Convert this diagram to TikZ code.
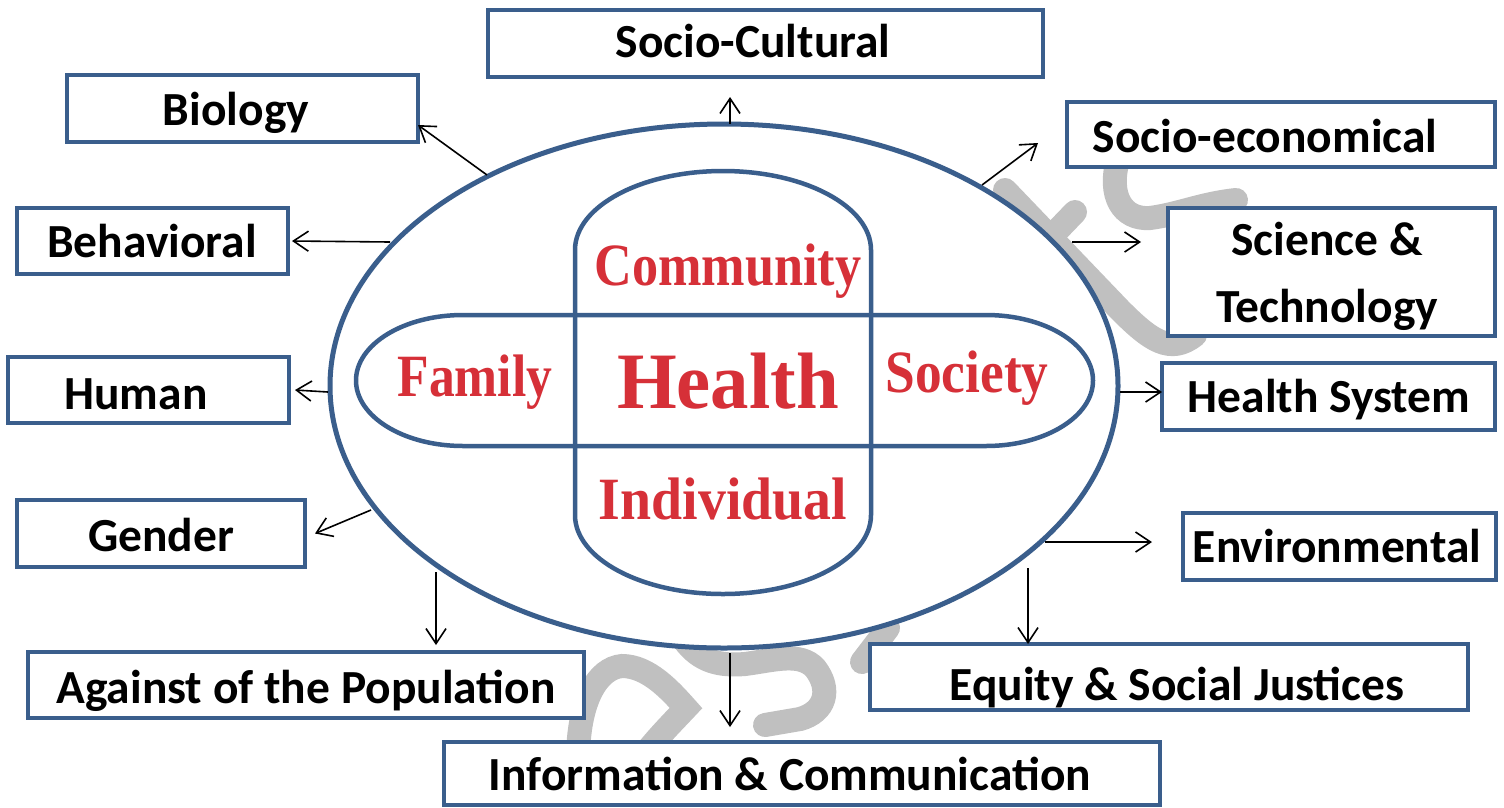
\documentclass[tikz,border=0pt]{standalone}
\usepackage{fontspec}
\usepackage{graphicx}
\usetikzlibrary{shapes.geometric,arrows.meta}
\newfontfamily\boxfont{Carlito}
\newfontfamily\redfont{Liberation Serif}
\definecolor{bblue}{RGB}{58,94,140}
\definecolor{hred}{RGB}{214,48,56}
\definecolor{wmgray}{RGB}{192,192,192}
\begin{document}
\begin{tikzpicture}[x=1pt,y=-1pt,
  box/.style={draw=bblue, line width=4.5pt, fill=white, rectangle, inner sep=0pt, outer sep=0pt},
  lbl/.style={font=\boxfont\bfseries\fontsize{47.5}{57}\selectfont, anchor=base, inner sep=0pt},
  arr/.style={-{Straight Barb[length=15pt,width=20pt]}, line width=1.6pt, black},
  wm/.style={wmgray, line width=24pt, line cap=round},
  pill/.style={draw=bblue, line width=4.5pt},
  redtxt/.style={font=\redfont\bfseries\fontsize{60}{66}\selectfont, text=hred, anchor=base, inner sep=0pt},
  redbig/.style={font=\redfont\bfseries\fontsize{80}{86}\selectfont, text=hred, anchor=base, inner sep=0pt}]
\fill[white] (0,0) rectangle (1504,807);
\useasboundingbox (0,0) rectangle (1504,807);

% watermark strokes
\draw[wm] (578,760) .. controls (578,700) and (598,668) .. (622,666) .. controls (648,666) and (670,690) .. (686,708) .. controls (670,725) and (655,740) .. (640,760);
\draw[wm] (684,640) .. controls (700,662) and (720,666) .. (745,664) .. controls (775,660) and (800,652) .. (815,668) .. controls (832,690) and (825,712) .. (800,719) -- (765,725);
\draw[wm] (862,662) -- (888,628);
\draw[wm] (1050,238) -- (1075,212);
\draw[wm] (1005,190) -- (1120,310) .. controls (1150,340) and (1170,355) .. (1195,335);
\draw[wm] (1118,160) .. controls (1108,195) and (1122,220) .. (1150,218) .. controls (1180,214) and (1200,204) .. (1236,200);

% main ellipse
\node[ellipse, draw=bblue, line width=5pt, fill=white, minimum width=788pt, minimum height=524pt, inner sep=0pt, outer sep=0pt] (ell) at (724,386) {};

% cross of pills
\draw[pill] (575,515) -- (575,250) arc[start angle=180, end angle=360, x radius=148, y radius=79] -- (871,515) arc[start angle=0, end angle=180, x radius=148, y radius=79] -- cycle;
\draw[pill] (463,315) -- (986,315) arc[start angle=-90, end angle=90, x radius=107, y radius=65.5] -- (463,446) arc[start angle=90, end angle=270, x radius=107, y radius=65.5] -- cycle;

% boxes
\node[box, minimum width=555pt, minimum height=67pt] (soc) at (765.5,43.5) {};
\node[box, minimum width=351pt, minimum height=67pt] (bio) at (242.5,108.5) {};
\node[box, minimum width=428pt, minimum height=65pt] (seco) at (1281,134.5) {};
\node[box, minimum width=271pt, minimum height=66pt] (beh) at (152.5,241) {};
\node[box, minimum width=327pt, minimum height=128pt] (sci) at (1331.5,272) {};
\node[box, minimum width=281pt, minimum height=66pt] (hum) at (148.5,390) {};
\node[box, minimum width=333pt, minimum height=67pt] (hs) at (1328.5,396.5) {};
\node[box, minimum width=288pt, minimum height=67pt] (gen) at (161,533.5) {};
\node[box, minimum width=313pt, minimum height=67pt] (env) at (1339.5,546.5) {};
\node[box, minimum width=556pt, minimum height=66pt] (ag) at (306,685) {};
\node[box, minimum width=598pt, minimum height=66pt] (eq) at (1169,677) {};
\node[box, minimum width=716pt, minimum height=63pt] (inf) at (802,773.5) {};

% box labels
\node[lbl] (tsoc) at (753,57) {Socio-Cultural};
\node[lbl] (tbio) at (236,125) {Biology};
\node[lbl] (tseco) at (1265,152) {Socio-economical};
\node[lbl] (tbeh) at (152,257) {Behavioral};
\node[lbl] (tsci1) at (1327,255) {Science \&};
\node[lbl] (tsci2) at (1327,322) {Technology};
\node[lbl] (thum) at (136,409) {Human};
\node[lbl] (ths) at (1329,412) {Health System};
\node[lbl] (tgen) at (161,551) {Gender};
\node[lbl] (tenv) at (1337,562) {Environmental};
\node[lbl] (tag) at (306,703) {Against of the Population};
\node[lbl] (teq) at (1177,700) {Equity \& Social Justices};
\node[lbl] (tinf) at (790,790) {Information \& Communication};

% arrows
\coordinate (pBio) at (487,175);
\coordinate (pSoc) at (730,124);
\coordinate (tSoc) at (730,97);
\coordinate (pSeco) at (982,185);
\coordinate (tSeco) at (1038,143);
\coordinate (pBeh) at (390,242);
\coordinate (pSci) at (1072,242);
\coordinate (tSci) at (1141,242);
\coordinate (pHum) at (328,392);
\coordinate (pHs) at (1120,392);
\coordinate (pGen) at (371,510);
\coordinate (pEnv) at (1045,542);
\coordinate (tEnv) at (1152,542);
\coordinate (pAg) at (436,572);
\coordinate (tAg) at (436,645);
\coordinate (pEq) at (1028,568);
\coordinate (pInf) at (730,653);
\coordinate (tInf) at (730,727);
\draw[arr] (pBio) -- ([yshift=-16.5pt]bio.east);
\draw[arr] (pSoc) -- (tSoc);
\draw[arr] (pSeco) -- (tSeco);
\draw[arr] (pBeh) -- ([xshift=4pt]beh.east);
\draw[arr] (pSci) -- (tSci);
\draw[arr] (pHum) -- ([xshift=6pt]hum.east);
\draw[arr] (pHs) -- (pHs -| hs.west);
\draw[arr] (pGen) -- ([xshift=10pt]gen.east);
\draw[arr] (pEnv) -- (tEnv);
\draw[arr] (pAg) -- (tAg);
\draw[arr] (pEq) -- (pEq |- eq.north);
\draw[arr] (pInf) -- (tInf);

% red centre words
\node[redtxt] (com) at (728,285) {\scalebox{0.87}[1]{Community}};
\node[redtxt] (fam) at (475,396) {\scalebox{0.86}[1]{Family}};
\node[redbig] (hea) at (728,408) {\scalebox{0.96}[1]{Health}};
\node[redtxt] (soci) at (967,392) {\scalebox{0.89}[1]{Society}};
\node[redtxt] (ind) at (723,519) {\scalebox{0.93}[1]{Individual}};
\end{tikzpicture}
\end{document}
